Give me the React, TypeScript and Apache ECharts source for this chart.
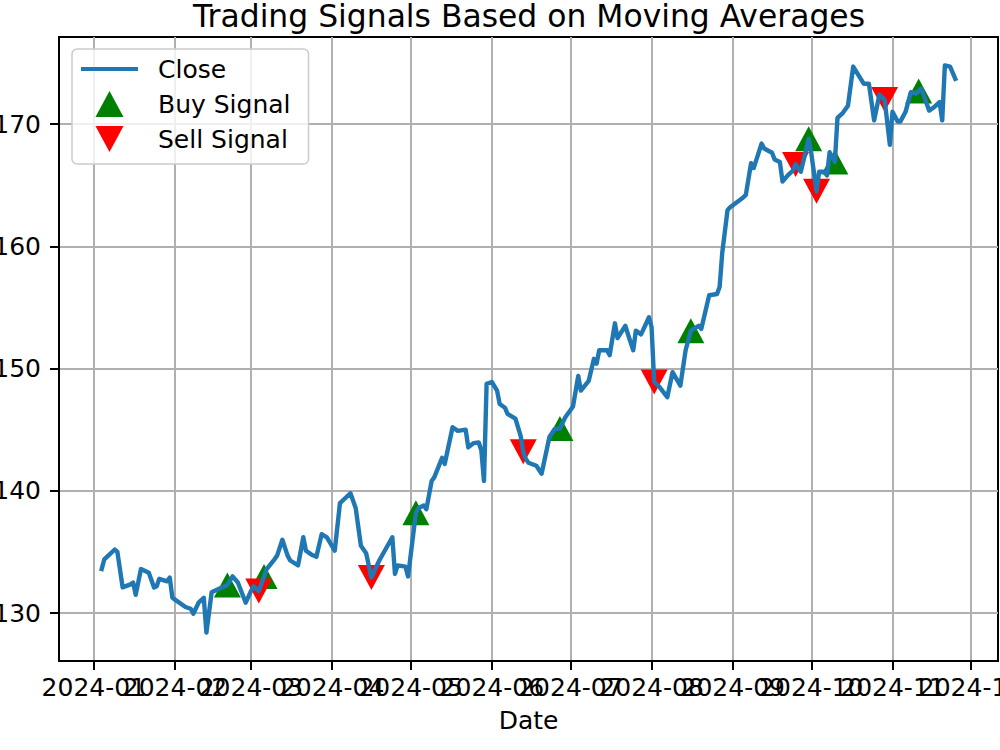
import { useEffect, useRef } from "react";
import * as echarts from "echarts";

// Daily closing prices (turning points of the price path)
const closeDates = [
  "2024-01-04", "2024-01-05", "2024-01-09", "2024-01-10", "2024-01-12", "2024-01-15", "2024-01-16", "2024-01-17",
  "2024-01-19", "2024-01-20", "2024-01-22", "2024-01-24", "2024-01-25", "2024-01-26", "2024-01-29", "2024-01-30",
  "2024-01-31", "2024-02-01", "2024-02-05", "2024-02-07", "2024-02-08", "2024-02-10", "2024-02-12", "2024-02-13",
  "2024-02-15", "2024-02-17", "2024-02-21", "2024-02-23", "2024-02-25", "2024-02-26", "2024-02-28", "2024-03-01",
  "2024-03-02", "2024-03-04", "2024-03-06", "2024-03-07", "2024-03-10", "2024-03-11", "2024-03-13", "2024-03-15",
  "2024-03-16", "2024-03-19", "2024-03-21", "2024-03-22", "2024-03-24", "2024-03-26", "2024-03-28", "2024-03-30",
  "2024-04-02", "2024-04-04", "2024-04-08", "2024-04-10", "2024-04-12", "2024-04-14", "2024-04-16", "2024-04-19",
  "2024-04-24", "2024-04-25", "2024-04-26", "2024-04-29", "2024-04-30", "2024-05-03", "2024-05-04", "2024-05-06",
  "2024-05-07", "2024-05-09", "2024-05-10", "2024-05-13", "2024-05-14", "2024-05-17", "2024-05-19", "2024-05-22",
  "2024-05-23", "2024-05-25", "2024-05-27", "2024-05-28", "2024-05-29", "2024-05-30", "2024-06-01", "2024-06-03",
  "2024-06-04", "2024-06-06", "2024-06-07", "2024-06-10", "2024-06-12", "2024-06-13", "2024-06-14", "2024-06-15",
  "2024-06-18", "2024-06-20", "2024-06-23", "2024-06-25", "2024-06-27", "2024-06-29", "2024-07-02", "2024-07-04",
  "2024-07-05", "2024-07-08", "2024-07-10", "2024-07-11", "2024-07-12", "2024-07-15", "2024-07-16", "2024-07-18",
  "2024-07-19", "2024-07-22", "2024-07-23", "2024-07-25", "2024-07-26", "2024-07-28", "2024-07-31", "2024-08-01",
  "2024-08-02", "2024-08-04", "2024-08-07", "2024-08-09", "2024-08-12", "2024-08-14", "2024-08-16", "2024-08-19",
  "2024-08-20", "2024-08-23", "2024-08-26", "2024-08-27", "2024-08-28", "2024-08-30", "2024-08-31", "2024-09-05",
  "2024-09-06", "2024-09-08", "2024-09-09", "2024-09-12", "2024-09-13", "2024-09-16", "2024-09-17", "2024-09-19",
  "2024-09-20", "2024-09-22", "2024-09-24", "2024-09-25", "2024-09-27", "2024-09-30", "2024-10-01", "2024-10-03",
  "2024-10-04", "2024-10-06", "2024-10-07", "2024-10-08", "2024-10-10", "2024-10-11", "2024-10-13", "2024-10-15",
  "2024-10-17", "2024-10-19", "2024-10-21", "2024-10-23", "2024-10-25", "2024-10-27", "2024-10-29", "2024-10-31",
  "2024-11-01", "2024-11-03", "2024-11-04", "2024-11-06", "2024-11-08", "2024-11-10", "2024-11-11", "2024-11-12",
  "2024-11-15", "2024-11-17", "2024-11-19", "2024-11-20", "2024-11-21", "2024-11-23", "2024-11-25",
];

const closeValues = [
  133.6, 134.4, 135.2, 135.0, 132.1, 132.35, 132.5, 131.5,
  133.6, 133.5, 133.3, 132.1, 132.2, 132.8, 132.6, 132.9,
  131.25, 131.1, 130.5, 130.35, 129.95, 130.85, 131.25, 128.4,
  131.7, 131.9, 132.3, 133.0, 132.5, 131.95, 130.85, 131.8,
  132.2, 131.8, 133.0, 133.6, 134.4, 134.7, 136.0, 134.7,
  134.3, 133.9, 136.2, 135.1, 134.8, 134.6, 136.45, 136.2,
  135.1, 139.0, 139.8, 138.6, 135.5, 134.9, 132.9, 134.3,
  136.2, 133.2, 133.9, 133.8, 133.0, 138.2, 138.6, 138.8,
  138.5, 140.8, 141.1, 142.7, 142.2, 145.2, 144.9, 145.0,
  143.55, 143.9, 143.95, 143.3, 140.8, 148.75, 148.9, 148.2,
  147.1, 146.8, 146.3, 145.9, 144.5, 143.2, 142.6, 142.3,
  142.05, 141.4, 144.4, 145.05, 145.1, 146.0, 146.9, 149.4,
  148.2, 149.0, 150.8, 150.4, 151.5, 151.5, 151.1, 153.7,
  152.5, 153.5, 152.8, 151.5, 153.1, 152.8, 154.2, 153.4,
  148.9, 148.5, 147.65, 149.7, 148.6, 151.5, 153.1, 153.5,
  153.25, 156.0, 156.1, 156.7, 159.5, 162.95, 163.2, 164.0,
  164.2, 166.8, 166.4, 168.4, 168.0, 167.65, 167.1, 166.9,
  165.3, 165.8, 166.2, 166.7, 166.1, 168.8, 167.6, 164.5,
  166.1, 166.1, 165.8, 167.7, 166.9, 170.5, 170.9, 171.5,
  174.7, 174.0, 173.3, 173.3, 170.3, 172.4, 172.0, 168.3,
  171.0, 170.2, 170.2, 171.0, 172.6, 172.5, 172.7, 172.9,
  171.1, 171.4, 171.8, 170.3, 174.8, 174.7, 173.7,
];

// Moving-average crossover signal dates
const buyDates = ["2024-02-21", "2024-03-06", "2024-05-03", "2024-06-27", "2024-08-16", "2024-09-30", "2024-10-10", "2024-11-11"];
const sellDates = ["2024-03-04", "2024-04-16", "2024-06-13", "2024-08-02", "2024-09-25", "2024-10-03", "2024-10-29"];

// Axis ticks
const monthTicks = [
  "2024-01-01", "2024-02-01", "2024-03-01", "2024-04-01", "2024-05-01", "2024-06-01",
  "2024-07-01", "2024-08-01", "2024-09-01", "2024-10-01", "2024-11-01", "2024-12-01",
];
const priceTicks = [130, 140, 150, 160, 170];

const FONT = "DejaVu Sans";

const toTime = (s: string) => {
  const [y, m, d] = s.split("-").map(Number);
  return Date.UTC(y, m - 1, d);
};

const pad2 = (n: number) => (n < 10 ? "0" + n : "" + n);

const monthLabel = (v: number) => {
  const dt = new Date(v);
  return dt.getUTCFullYear() + "-" + pad2(dt.getUTCMonth() + 1);
};

export default function App() {
  const ref = useRef<HTMLDivElement>(null);

  useEffect(() => {
    if (!ref.current) return;
    const chart = echarts.init(ref.current, undefined, { renderer: "svg" });

    const closeSeries = closeDates.map((d, i) => [toTime(d), closeValues[i]]);
    const closeAt = (d: string) => closeValues[closeDates.indexOf(d)];
    const buyPoints = buyDates.map((d) => [toTime(d), closeAt(d)]);
    const sellPoints = sellDates.map((d) => [toTime(d), closeAt(d)]);
    const monthTimes = monthTicks.map(toTime);
    // Month labels are split over two stacked bottom axes so that
    // neighbouring labels are all drawn even where they run into each other.
    const oddMonths = monthTimes.filter((_, i) => i % 2 === 0);
    const evenMonths = monthTimes.filter((_, i) => i % 2 === 1);

    // 5% padding around the data range on both axes
    const tFirst = toTime(closeDates[0]);
    const tLast = toTime(closeDates[closeDates.length - 1]);
    const tPad = (tLast - tFirst) * 0.05;
    const vMin = Math.min(...closeValues);
    const vMax = Math.max(...closeValues);
    const vPad = (vMax - vMin) * 0.05;

    const labelStyle = {
      fontFamily: FONT,
      fontSize: 25,
      color: "#000",
      margin: 14,
      hideOverlap: false,
      showMinLabel: true,
      showMaxLabel: true,
      formatter: monthLabel,
    };

    chart.setOption({
      animation: false,
      backgroundColor: "#ffffff",
      title: {
        text: "Trading Signals Based on Moving Averages",
        left: 529,
        top: 0,
        textAlign: "center",
        padding: 0,
        textStyle: { fontFamily: FONT, fontSize: 31.4, fontWeight: "normal", color: "#000" },
      },
      grid: {
        left: 59,
        right: 2,
        top: 37,
        bottom: 89,
        outerBoundsMode: "none",
        containLabel: false,
        show: true,
        borderColor: "#000",
        borderWidth: 2,
        backgroundColor: "transparent",
      },
      legend: {
        orient: "vertical",
        left: 72,
        top: 49,
        padding: [7, 18, 12, 9],
        itemWidth: 57,
        itemHeight: 26,
        itemGap: 9,
        selectedMode: false,
        backgroundColor: "rgba(255,255,255,0.8)",
        borderColor: "#cccccc",
        borderWidth: 1.5,
        borderRadius: 5,
        textStyle: { fontFamily: FONT, fontSize: 25, color: "#000", padding: [0, 0, 0, 15], lineHeight: 26 },
        data: [
          { name: "Close", icon: "path://M0,0H57V4H0Z", itemStyle: { borderWidth: 0, opacity: 1 } },
          { name: "Buy Signal", icon: "path://M13.5,0L27,25L0,25Z", itemStyle: { borderWidth: 0, opacity: 1 } },
          { name: "Sell Signal", icon: "path://M0,0L27,0L13.5,25Z", itemStyle: { borderWidth: 0, opacity: 1 } },
        ],
      },
      xAxis: [
        {
          type: "value",
          position: "bottom",
          min: tFirst - tPad,
          max: tLast + tPad,
          name: "Date",
          nameLocation: "middle",
          nameGap: 47,
          nameTextStyle: { fontFamily: FONT, fontSize: 25, color: "#000" },
          axisLine: { show: true, onZero: false, lineStyle: { color: "#000", width: 2 } },
          axisTick: {
            show: true,
            length: 9,
            lineStyle: { color: "#000", width: 2 },
            customValues: monthTimes,
          },
          axisLabel: { ...labelStyle, customValues: oddMonths },
          splitLine: { show: true, lineStyle: { color: "#b0b0b0", width: 2 } },
        },
        {
          type: "value",
          position: "bottom",
          offset: 0,
          min: tFirst - tPad,
          max: tLast + tPad,
          axisLine: { show: false, onZero: false },
          axisTick: { show: false, length: 9, customValues: evenMonths },
          axisLabel: { ...labelStyle, customValues: evenMonths },
          splitLine: { show: false },
        },
      ],
      yAxis: {
        type: "value",
        min: vMin - vPad,
        max: vMax + vPad,
        axisLine: { show: true, onZero: false, lineStyle: { color: "#000", width: 2 } },
        axisTick: {
          show: true,
          length: 9,
          lineStyle: { color: "#000", width: 2 },
          customValues: priceTicks,
        },
        axisLabel: {
          fontFamily: FONT,
          fontSize: 25,
          color: "#000",
          margin: 18,
          showMinLabel: true,
          showMaxLabel: true,
          customValues: priceTicks,
        },
        splitLine: { show: true, lineStyle: { color: "#b0b0b0", width: 2 } },
      },
      series: [
        {
          name: "Close",
          type: "line",
          xAxisIndex: 0,
          data: closeSeries,
          showSymbol: false,
          symbol: "none",
          z: 3,
          color: "#1f77b4",
          lineStyle: { color: "#1f77b4", width: 4.4, join: "round", cap: "square" },
        },
        {
          name: "Buy Signal",
          type: "scatter",
          xAxisIndex: 0,
          data: buyPoints,
          symbol: "triangle",
          symbolSize: [27, 25],
          z: 2,
          color: "#008000",
          itemStyle: { color: "#008000", opacity: 1 },
        },
        {
          name: "Sell Signal",
          type: "scatter",
          xAxisIndex: 0,
          data: sellPoints,
          symbol: "triangle",
          symbolRotate: 180,
          symbolSize: [27, 25],
          z: 2,
          color: "#ff0000",
          itemStyle: { color: "#ff0000", opacity: 1 },
        },
      ],
    });

    return () => chart.dispose();
  }, []);

  return (
    <div
      ref={ref}
      style={{ position: "fixed", left: 0, top: 0, width: 1000, height: 750, background: "#fff" }}
    />
  );
}
